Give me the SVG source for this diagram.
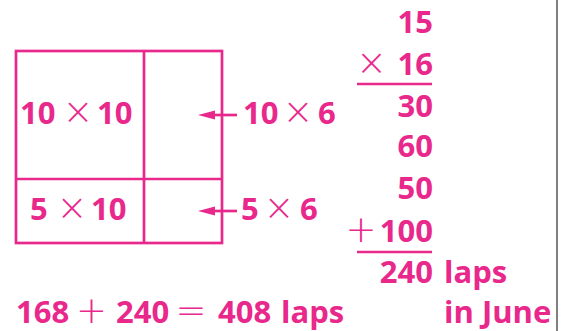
<svg xmlns="http://www.w3.org/2000/svg" width="567" height="331" viewBox="0 0 567 331">
<style>
.t{font-family:"Open Sans","Noto Sans",sans-serif;font-weight:700;font-size:31px;fill:#E9288C}
.op{font-family:"DejaVu Sans",sans-serif;font-weight:300;font-size:37px;fill:#E9288C;text-anchor:middle}
.e{text-anchor:end}
.ln{stroke:#E9288C;stroke-width:2.7;fill:none}
.ah{fill:#E9288C}
</style>
<rect width="567" height="331" fill="#fff"/>
<line x1="557" y1="0" x2="557" y2="331" stroke="#808080" stroke-width="2"/>
<g id="grid">
<rect class="ln" x="16" y="51" width="206" height="192"/>
<line class="ln" x1="144" y1="51" x2="144" y2="243"/>
<line class="ln" x1="16" y1="179" x2="222" y2="179"/>
</g>
<g id="cell-10x10">
<text class="t" x="20" y="124">10</text>
<text class="op" x="78" y="124">×</text>
<text class="t" x="97" y="124">10</text>
</g>
<g id="cell-5x10">
<text class="t" x="30" y="220">5</text>
<text class="op" x="72" y="220">×</text>
<text class="t" x="91" y="220">10</text>
</g>
<g id="label-10x6">
<text class="t" x="243" y="124">10</text>
<text class="op" x="298" y="124">×</text>
<text class="t" x="318" y="124">6</text>
</g>
<g id="label-5x6">
<text class="t" x="241" y="220">5</text>
<text class="op" x="279" y="220">×</text>
<text class="t" x="300" y="220">6</text>
</g>
<g id="connectors">
<line class="ln" x1="237" y1="115" x2="212" y2="115"/>
<path class="ah" d="M198,115 L215,110.5 L215,119.5 Z"/>
<line class="ln" x1="237" y1="211" x2="212" y2="211"/>
<path class="ah" d="M198,211 L215,206.5 L215,215.5 Z"/>
</g>
<g id="multiplication">
<text class="t e" x="433" y="33">15</text>
<text class="op" x="371.5" y="75">×</text>
<text class="t e" x="433" y="75">16</text>
<line class="ln" x1="357" y1="84" x2="432" y2="84"/>
<text class="t e" x="433" y="117">30</text>
<text class="t e" x="433" y="157">60</text>
<text class="t e" x="433" y="199">50</text>
<text class="op" x="361" y="242">+</text>
<text class="t e" x="433" y="242">100</text>
<line class="ln" x1="357" y1="252" x2="432" y2="252"/>
<text class="t e" x="433" y="283">240</text>
<text class="t" x="444" y="283">laps</text>
<text class="t" x="444" y="323">in June</text>
</g>
<g id="total">
<text class="t" x="16" y="323">168</text>
<text class="op" x="91.5" y="323">+</text>
<text class="t" x="116" y="323">240</text>
<text class="op" x="191" y="323">=</text>
<text class="t" x="218" y="323">408</text>
<text class="t" x="281" y="323">laps</text>
</g>
</svg>
